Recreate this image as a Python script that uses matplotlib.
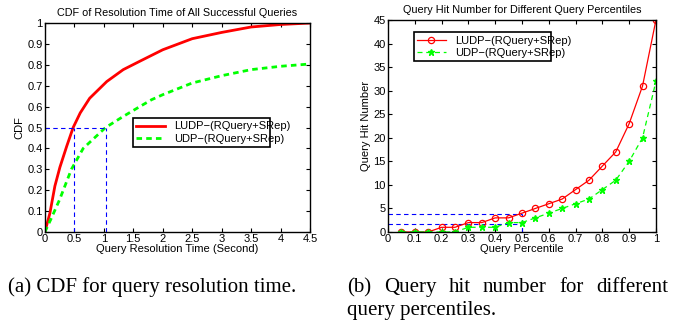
import matplotlib
matplotlib.use('Agg')
import matplotlib.pyplot as plt

# Left panel: CDF of resolution time
t_ludp = [0, 0.085, 0.17, 0.255, 0.37, 0.48, 0.6, 0.76, 1.05, 1.33, 1.61, 2.0,
          2.5, 3.0, 3.5, 4.0, 4.5]
cdf_ludp = [0, 0.09, 0.22, 0.31, 0.41, 0.50, 0.57, 0.64, 0.72, 0.777, 0.817, 0.872,
            0.925, 0.955, 0.981, 0.993, 1.0]
t_udp = [0, 0.1, 0.25, 0.45, 0.65, 1.03, 1.33, 1.61, 1.81, 2.0, 2.5, 3.0, 3.5, 4.0, 4.5]
cdf_udp = [0, 0.06, 0.155, 0.30, 0.40, 0.50, 0.553, 0.60, 0.633, 0.657, 0.713, 0.748,
           0.777, 0.793, 0.804]

# Right panel: query hit number
pct = [0.05, 0.1, 0.15, 0.2, 0.25, 0.3, 0.35, 0.4, 0.45, 0.5,
       0.55, 0.6, 0.65, 0.7, 0.75, 0.8, 0.85, 0.9, 0.95, 1.0]
hits_ludp = [0, 0, 0, 1, 1, 2, 2, 3, 3, 4, 5, 6, 7, 9, 11, 14, 17, 23, 31, 45]
hits_udp = [0, 0, 0, 0, 0, 1, 1, 1, 2, 2, 3, 4, 5, 6, 7, 9, 11, 15, 20, 32]

plt.rcParams['font.family'] = ['Liberation Sans', 'DejaVu Sans']
plt.rcParams['font.size'] = 8
plt.rcParams['xtick.direction'] = 'in'
plt.rcParams['ytick.direction'] = 'in'
plt.rcParams['xtick.top'] = True
plt.rcParams['ytick.right'] = True

fig = plt.figure(figsize=(6.8, 3.22), dpi=100)
guide = dict(color='blue', lw=0.8, ls=(0, (4, 3)))

# ---- (a) ----
ax1 = fig.add_axes([0.066, 0.2795, 0.39, 0.649])
ax1.plot(t_ludp, cdf_ludp, color='red', lw=2, label='LUDP\u2212(RQuery+SRep)')
ax1.plot(t_udp, cdf_udp, color='#00ff00', lw=2, ls=(0, (2, 1.5)), label='UDP\u2212(RQuery+SRep)')
ax1.plot([0, 1.03], [0.5, 0.5], **guide)
ax1.plot([0.5, 0.5], [0, 0.5], **guide)
ax1.plot([1.03, 1.03], [0, 0.5], **guide)
ax1.set_xlim(0, 4.5)
ax1.set_ylim(0, 1)
ax1.set_xticks([0, 0.5, 1, 1.5, 2, 2.5, 3, 3.5, 4, 4.5])
ax1.set_xticklabels(['0', '0.5', '1', '1.5', '2', '2.5', '3', '3.5', '4', '4.5'])
ax1.set_yticks([i / 10 for i in range(11)])
ax1.set_yticklabels(['0', '0.1', '0.2', '0.3', '0.4', '0.5', '0.6', '0.7', '0.8', '0.9', '1'])
ax1.tick_params(length=3, pad=1.5)
ax1.set_title('CDF of Resolution Time of All Successful Queries', fontsize=7.8, pad=5)
ax1.set_xlabel('Query Resolution Time (Second)', labelpad=0)
ax1.set_ylabel('CDF', labelpad=2)
leg1 = ax1.legend(loc='lower left', bbox_to_anchor=(0.31, 0.38, 0.56, 0.13), mode='expand',
                  fancybox=False, edgecolor='black', framealpha=1, borderpad=0.3,
                  handlelength=2.6, labelspacing=0.2, fontsize=8)
leg1.get_frame().set_linewidth(1.2)

# ---- (b) ----
ax2 = fig.add_axes([0.5706, 0.2795, 0.394, 0.658])
ax2.plot([0, 0.5], [3.73, 3.73], **guide)
ax2.plot([0, 0.5], [1.76, 1.76], **guide)
ax2.plot([0.5, 0.5], [0, 3.73], **guide)
ax2.plot(pct, hits_ludp, color='red', lw=0.9, marker='o', ms=4.5, mfc='none', mew=0.9,
         label='LUDP\u2212(RQuery+SRep)')
ax2.plot(pct, hits_udp, color='#00ff00', lw=0.9, ls=(0, (4, 3)), marker='*', ms=5,
         label='UDP\u2212(RQuery+SRep)')
ax2.set_xlim(0, 1)
ax2.set_ylim(0, 45)
ax2.set_xticks([i / 10 for i in range(11)])
ax2.set_xticklabels(['0', '0.1', '0.2', '0.3', '0.4', '0.5', '0.6', '0.7', '0.8', '0.9', '1'])
ax2.set_yticks(range(0, 46, 5))
ax2.tick_params(length=3, pad=1.5)
ax2.set_title('Query Hit Number for Different Query Percentiles', fontsize=7.8, pad=5)
ax2.set_xlabel('Query Percentile', labelpad=0)
ax2.set_ylabel('Query Hit Number', labelpad=2)
leg2 = ax2.legend(loc='lower left', bbox_to_anchor=(0.075, 0.78, 0.555, 0.13), mode='expand',
                  fancybox=False, edgecolor='black', framealpha=1, borderpad=0.3,
                  handlelength=2.6, labelspacing=0.2, fontsize=8)
leg2.get_frame().set_linewidth(1.2)

for ax in (ax1, ax2):
    for s in ax.spines.values():
        s.set_linewidth(1.0)

# captions (second one is justified, so words are placed one by one)
cap = dict(family='Liberation Serif', fontsize=15, va='baseline')
fig.text(8 / 680, 1 - 292 / 322, '(a) CDF for query resolution time.', **cap)
for word, x in [('(b)', 347), ('Query', 384), ('hit', 448.5), ('number', 483),
                ('for', 559), ('different', 596)]:
    fig.text(x / 680, 1 - 292 / 322, word, **cap)
fig.text(347 / 680, 1 - 315 / 322, 'query percentiles.', **cap)

fig.savefig('out.png', dpi=100)
